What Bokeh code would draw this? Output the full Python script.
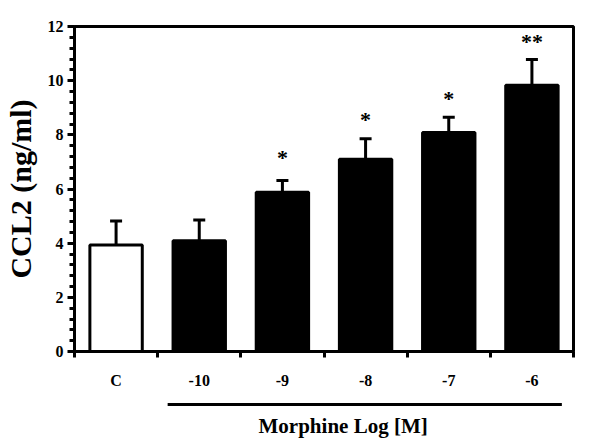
from bokeh.plotting import figure
from bokeh.layouts import column
from bokeh.models import FixedTicker, Range1d, Whisker, TeeHead, ColumnDataSource
from bokeh.core.properties import value
from bokeh.embed import file_html
from bokeh.resources import INLINE

# ---- data ----
categories = ["C", "-10", "-9", "-8", "-7", "-6"]
means = [3.93, 4.09, 5.88, 7.10, 8.09, 9.83]
errors = [0.89, 0.77, 0.43, 0.76, 0.56, 0.95]
stars = ["", "", "*", "*", "*", "**"]
star_levels = [0, 0, 7.17, 8.57, 9.34, 11.46]
fills = ["white", "black", "black", "black", "black", "black"]
y_ticks = [0, 2, 4, 6, 8, 10, 12]
y_label = "CCL2 (ng/ml)"
group_label = "Morphine Log [M]"
group_span = [1.12, 5.86]   # extent of the "Morphine" bracket, in category units
group_label_x = 3.23

FONT = "Liberation Serif"
Y_MAX = 12
LEFT, RIGHT = 73, 28

positions = [i + 0.5 for i in range(len(categories))]
uppers = [m + e for m, e in zip(means, errors)]

p = figure(frame_width=499, frame_height=325,
           x_range=Range1d(0, len(categories)), y_range=Range1d(0, Y_MAX),
           output_backend="svg", toolbar_location=None,
           min_border_left=LEFT, min_border_top=26, min_border_right=RIGHT, min_border_bottom=42)

p.xgrid.visible = False
p.ygrid.visible = False
p.outline_line_color = "black"
p.outline_line_width = 3
p.background_fill_color = "white"
p.border_fill_color = "white"

# y axis
p.yaxis.ticker = FixedTicker(ticks=y_ticks, minor_ticks=[i * 0.4 for i in range(31)])
p.yaxis.axis_line_width = 3
p.yaxis.major_tick_line_width = 3
p.yaxis.minor_tick_line_width = 3
p.yaxis.major_tick_out = 7
p.yaxis.major_tick_in = 0
p.yaxis.minor_tick_out = 5
p.yaxis.minor_tick_in = 0
p.yaxis.major_label_standoff = 4
p.yaxis.major_label_text_font = FONT
p.yaxis.major_label_text_font_style = "bold"
p.yaxis.major_label_text_font_size = "16px"
p.yaxis.major_label_text_color = "black"
p.yaxis.axis_label = y_label
p.yaxis.axis_label_text_font = FONT
p.yaxis.axis_label_text_font_style = "bold"
p.yaxis.axis_label_text_font_size = "30px"
p.yaxis.axis_label_text_color = "black"
p.yaxis.axis_label_standoff = 8

# x axis
p.xaxis.ticker = FixedTicker(ticks=positions, minor_ticks=list(range(len(categories) + 1)))
p.xaxis.major_label_overrides = {pos: c for pos, c in zip(positions, categories)}
p.xaxis.axis_line_width = 3
p.xaxis.major_tick_out = 0
p.xaxis.major_tick_in = 0
p.xaxis.minor_tick_out = 6
p.xaxis.minor_tick_in = 0
p.xaxis.minor_tick_line_width = 3
p.xaxis.minor_tick_line_color = "black"
p.xaxis.major_label_standoff = 14
p.xaxis.major_label_text_font = FONT
p.xaxis.major_label_text_font_style = "bold"
p.xaxis.major_label_text_font_size = "16px"
p.xaxis.major_label_text_color = "black"

# bars
src = ColumnDataSource(dict(x=positions, top=means, fill=fills, upper=uppers, star=stars,
                            star_y=star_levels))
p.vbar(x="x", top="top", width=0.63, fill_color="fill", line_color="black", line_width=3, source=src)

# error bars
w = Whisker(base="x", upper="upper", lower="top", source=src, line_width=3, line_color="black",
            upper_head=TeeHead(size=12, line_width=3, line_color="black"), lower_head=None)
p.add_layout(w)

# significance stars
p.text(x="x", y="star_y", text="star", source=src, text_align="center", text_baseline="middle",
       text_font=value(FONT), text_font_style="bold", text_font_size="22px", text_color="black")

# ---- bracket and group label below the chart ----
BOTTOM_H = 446 - (26 + 325 + 42)
q = figure(frame_width=499, frame_height=BOTTOM_H,
           x_range=p.x_range, y_range=Range1d(0, BOTTOM_H),
           output_backend="svg", toolbar_location=None,
           x_axis_location=None, y_axis_location=None,
           min_border_left=LEFT, min_border_top=0, min_border_right=RIGHT, min_border_bottom=0)
q.xgrid.visible = False
q.ygrid.visible = False
q.outline_line_color = None
q.background_fill_color = "white"
q.border_fill_color = "white"
q.segment(x0=[group_span[0]], y0=[BOTTOM_H - 11], x1=[group_span[1]], y1=[BOTTOM_H - 11],
          line_width=3, line_color="black")
q.text(x=[group_label_x], y=[BOTTOM_H - 32], text=[group_label], text_align="center",
       text_baseline="middle", text_font=value(FONT), text_font_style="bold",
       text_font_size="21px", text_color="black")

layout = column(p, q, spacing=0)
open("out.html", "w").write(file_html(layout, INLINE))
